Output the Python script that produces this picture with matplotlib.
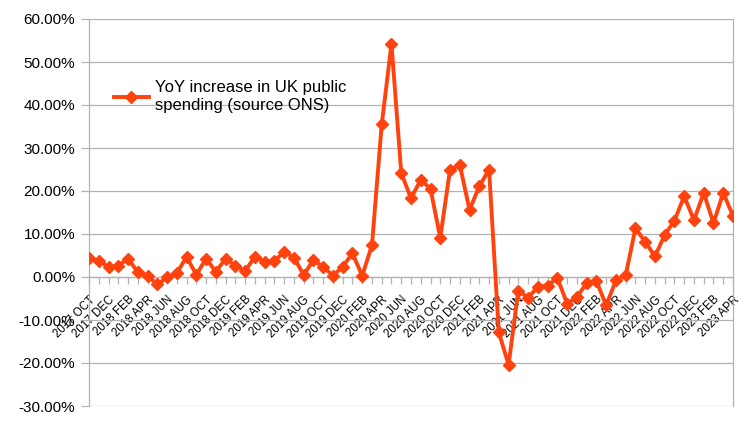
import matplotlib
matplotlib.use("Agg")
import matplotlib.pyplot as plt
from matplotlib.ticker import FuncFormatter

# monthly YoY change, Oct 2017 .. Apr 2023 (percent)
MONTHS = ["JAN", "FEB", "MAR", "APR", "MAY", "JUN",
          "JUL", "AUG", "SEP", "OCT", "NOV", "DEC"]
start_year, start_month = 2017, 10

yoy = [
    4.4, 3.7, 2.4, 2.6, 4.3, 1.1, 0.3, -1.7, -0.1, 0.9, 4.7, 0.5,
    4.3, 1.2, 4.3, 2.6, 1.4, 4.7, 3.6, 3.7, 5.9, 4.5, 0.5, 3.9,
    2.4, 0.3, 2.4, 5.5, 0.3, 7.4, 35.5, 54.2, 24.2, 18.3, 22.6, 20.5,
    9.1, 25.0, 26.1, 15.6, 21.1, 25.0, -12.9, -20.4, -3.2, -4.8, -2.3, -2.0,
    -0.2, -6.2, -4.6, -1.5, -0.9, -6.6, -0.8, 0.4, 11.3, 8.2, 4.8, 9.8,
    13.1, 18.8, 13.2, 19.6, 12.5, 19.6, 14.2,
]

labels = []
for i in range(len(yoy)):
    m = start_month - 1 + i
    labels.append(f"{start_year + m // 12} {MONTHS[m % 12]}" if i % 2 == 0 else "")

LINE = "#ff420e"
GRID = "#b3b3b3"

plt.rcParams["font.family"] = ["Liberation Sans", "DejaVu Sans"]

fig = plt.figure(figsize=(7.56, 4.25), dpi=100)
ax = fig.add_axes([89 / 756, 1 - 406 / 425, 644 / 756, 387 / 425])

x = list(range(len(yoy)))
ax.plot(x, yoy, color=LINE, lw=2.8, marker="D", ms=6.5, mec=LINE, mfc=LINE,
        label="YoY increase in UK public\nspending (source ONS)", zorder=3)

ax.set_xlim(0, len(yoy) - 1)
ax.set_ylim(-30, 60)
ax.set_yticks(range(-30, 61, 10))
ax.yaxis.set_major_formatter(FuncFormatter(lambda v, p: f"{v:.2f}%"))
ax.grid(axis="y", color=GRID, lw=0.9)
ax.set_axisbelow(True)

for side in ["left", "right", "top", "bottom"]:
    ax.spines[side].set_color(GRID)
    ax.spines[side].set_linewidth(0.9)
ax.spines["top"].set_visible(False)
ax.spines["bottom"].set_position(("data", 0))

ax.set_xticks(x)
ax.set_xticklabels(labels, rotation=45, ha="right", va="top",
                   rotation_mode="anchor", fontsize=8.3)
ax.tick_params(axis="x", length=5, color=GRID, width=0.9, pad=7)
ax.tick_params(axis="y", length=6, color=GRID, width=0.9, labelsize=11, pad=4)

ax.legend(loc="upper left", bbox_to_anchor=(0.015, 0.88), frameon=False,
          fontsize=12, handlelength=2.1, handletextpad=0.4, labelspacing=0.1)

fig.savefig("out.png", dpi=100)
